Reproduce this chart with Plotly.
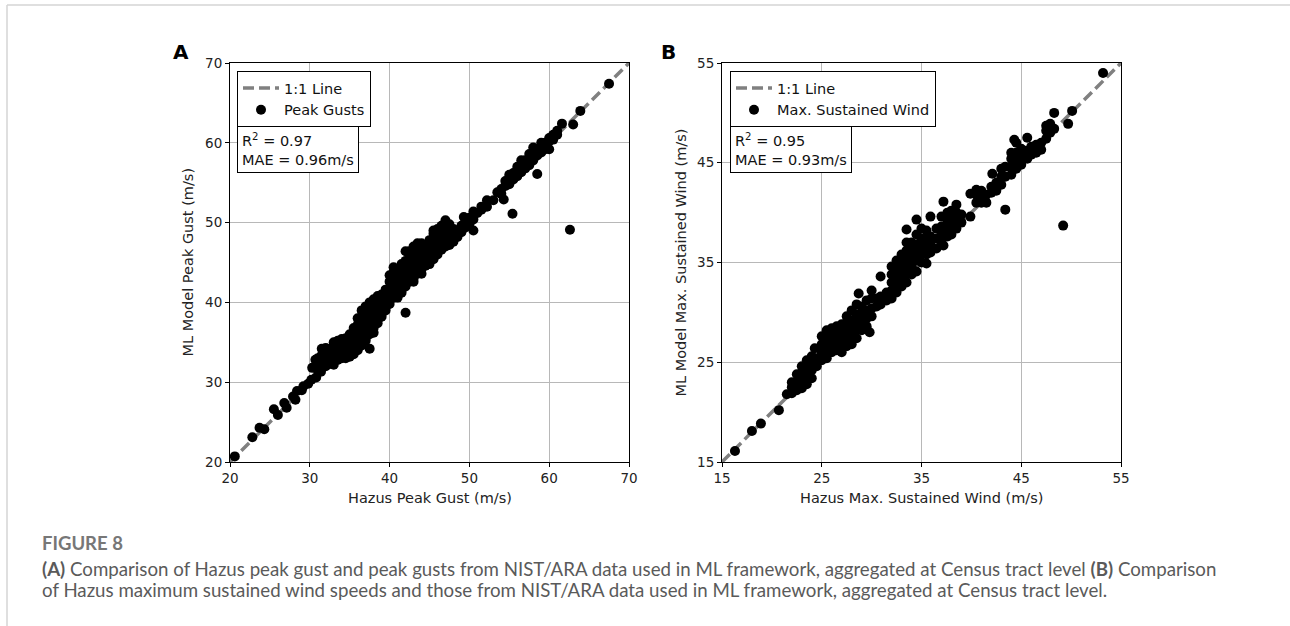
import plotly.graph_objects as go

W, H = 1290, 626

# ---------------- data ----------------
# Panel A: Hazus peak gust (x) vs ML model peak gust (y); columns of points
a_columns = [
    (20.6, [20.7]), (22.8, [23.1]), (23.7, [24.3]), (24.3, [24.1]),
    (25.5, [26.6]), (26.0, [25.9]), (26.8, [27.4]), (27.1, [26.8]),
    (27.9, [28.2]), (28.2, [27.8]), (28.4, [28.9]), (29.0, [29.0]),
    (29.2, [29.5]), (29.8, [29.8]), (30.2, [30.3]), (30.3, [31.8]),
    (30.7, [32.8]), (30.8, [30.6]), (31.4, [31.3]),
    (31.0, [31.5, 32.3, 33.0]),
    (31.5, [31.8, 32.6, 33.4, 34.2]),
    (32.0, [32.0, 32.8, 33.5, 34.3]),
    (32.5, [32.3, 33.0, 33.8, 34.0]),
    (33.0, [32.2, 33.0, 33.8, 34.6, 35.0]),
    (33.5, [32.8, 33.6, 34.4, 35.2]),
    (34.0, [33.0, 33.8, 34.6, 35.4]),
    (34.5, [33.0, 33.8, 34.6, 35.5]),
    (35.0, [33.2, 34.0, 34.8, 35.6, 36.0]),
    (35.5, [33.5, 34.3, 35.1, 35.9, 36.8]),
    (36.0, [34.0, 34.8, 35.6, 36.4, 37.2, 38.0]),
    (36.5, [34.6, 35.0, 35.8, 36.6, 37.4, 38.2, 39.0]),
    (37.0, [35.2, 35.5, 36.3, 37.1, 37.9, 38.7, 39.5]),
    (37.5, [34.2, 36.0, 36.8, 37.6, 38.4, 39.2, 40.0]),
    (38.0, [36.2, 36.8, 37.6, 38.4, 39.2, 40.0, 40.4]),
    (38.5, [37.4, 37.8, 38.6, 39.4, 40.2, 40.8]),
    (39.0, [38.2, 38.6, 39.4, 40.2, 41.0]),
    (39.5, [39.0, 39.4, 40.2, 41.0, 41.6]),
    (40.0, [39.8, 40.2, 41.0, 41.8, 42.6, 43.4]),
    (40.5, [40.6, 41.4, 42.2, 43.0, 43.8, 44.4]),
    (41.0, [40.6, 41.0, 41.8, 42.6, 43.4, 44.2]),
    (41.5, [41.2, 41.6, 42.4, 43.2, 44.0, 44.8]),
    (42.0, [38.7, 42.0, 42.8, 43.6, 44.4, 45.2, 46.4]),
    (42.5, [42.6, 43.4, 44.2, 45.0, 45.8, 46.4]),
    (43.0, [42.6, 43.0, 43.8, 44.6, 45.4, 46.2, 47.0]),
    (43.5, [43.6, 44.4, 45.2, 46.0, 46.8, 47.4]),
    (44.0, [43.6, 44.2, 45.0, 45.8, 46.6, 47.4]),
    (44.5, [44.6, 45.4, 46.2, 47.0]),
    (45.0, [44.8, 45.4, 46.2, 47.0, 47.8]),
    (45.5, [45.4, 46.2, 47.0, 47.8, 48.6, 49.0]),
    (46.0, [46.0, 46.8, 47.6, 48.4, 49.2]),
    (46.5, [46.6, 47.4, 48.2, 49.0, 49.6]),
    (47.0, [47.0, 47.8, 48.6, 49.4, 50.3]),
    (47.5, [47.2, 47.6, 48.4, 49.2, 49.8]),
    (48.0, [47.6, 48.4, 49.2]),
    (48.5, [48.2, 49.0]),
    (49.0, [48.8, 49.6]),
    (49.3, [50.7]),
    (49.5, [49.4, 50.4]),
    (50.0, [49.8, 50.6]),
    (50.5, [49.0, 50.4, 51.4]),
    (51.0, [51.2]),
    (51.5, [51.6, 52.0]),
    (52.2, [52.0, 52.8]),
    (53.0, [52.8]),
    (53.5, [53.8]),
    (54.0, [53.6, 54.2]),
    (54.3, [52.9]),
    (54.5, [54.6, 55.2]),
    (55.0, [54.8, 55.6, 56.0]),
    (55.4, [51.1]),
    (55.5, [55.4, 56.2]),
    (56.0, [55.8, 56.6, 57.0]),
    (56.5, [56.3, 57.1, 57.8]),
    (57.0, [56.8, 57.6, 57.8]),
    (57.5, [57.2, 58.0, 58.6]),
    (58.0, [57.8, 58.6, 59.4]),
    (58.5, [56.1, 58.4, 59.2]),
    (59.0, [58.8, 59.6, 60.0]),
    (59.5, [59.2, 60.0]),
    (60.0, [59.2, 60.2, 60.6]),
    (60.5, [60.4, 61.0]),
    (61.0, [61.0, 61.5]),
    (61.6, [62.4]),
    (62.6, [49.1]),
    (63.0, [62.3]),
    (63.9, [64.0]),
    (67.5, [67.4]),
]

# Panel B: Hazus max sustained wind (x) vs ML model max sustained wind (y)
b_columns = [
    (16.3, [16.1]), (18.0, [18.1]), (18.9, [18.85]), (20.7, [20.2]),
    (21.5, [21.8]), (22.0, [21.9, 22.5, 23.0]),
    (22.5, [22.2, 23.0, 23.8]),
    (23.0, [22.4, 23.2, 24.0, 24.6]),
    (23.5, [22.8, 23.6, 24.4, 25.2]),
    (24.0, [23.4, 24.2, 25.0, 25.6]),
    (24.3, [26.4]),
    (24.5, [24.6, 25.4]),
    (25.0, [25.2, 26.0, 26.8, 27.6]),
    (25.5, [25.4, 26.2, 27.0, 27.6, 28.2]),
    (26.0, [26.0, 26.8, 27.6, 28.4]),
    (26.5, [26.2, 27.0, 27.8, 28.6]),
    (27.0, [26.0, 26.8, 27.6, 28.4, 28.8]),
    (27.5, [26.6, 27.4, 28.2, 29.0, 29.6]),
    (28.0, [26.8, 27.6, 28.4, 29.2, 30.2]),
    (28.5, [27.4, 28.2, 29.0, 29.8, 30.8]),
    (28.7, [31.9]),
    (29.0, [28.2, 29.0, 29.8, 30.6]),
    (29.5, [28.6, 29.4, 30.2, 31.2]),
    (29.8, [28.0]),
    (30.0, [29.6, 30.4, 31.4, 32.2]),
    (30.5, [30.6, 31.4]),
    (30.9, [30.8, 31.6, 33.6]),
    (31.5, [31.2, 32.0]),
    (32.0, [31.4, 32.2, 33.0, 33.8, 34.6]),
    (32.5, [32.0, 32.8, 33.6, 34.4, 35.2]),
    (33.0, [32.6, 33.4, 34.2, 35.0, 35.8]),
    (33.5, [33.0, 33.8, 34.6, 35.4, 36.2, 37.0, 38.3]),
    (34.0, [33.8, 34.6, 35.4, 36.2, 37.0]),
    (34.5, [34.1, 35.2, 36.0, 36.8, 37.8, 39.3]),
    (35.0, [35.0, 35.8, 36.6, 37.4, 38.4]),
    (35.5, [34.9, 35.8, 36.6, 37.4, 38.2]),
    (35.9, [36.0, 36.8, 37.6, 39.6]),
    (36.5, [36.4, 37.4, 38.4]),
    (37.0, [37.0, 37.8, 38.6, 39.6]),
    (37.2, [36.7, 41.1]),
    (37.6, [37.6, 38.4, 39.2, 40.0]),
    (38.0, [37.8, 38.6, 39.4, 40.2]),
    (38.5, [38.4, 39.2, 40.0, 40.8]),
    (39.0, [39.0, 39.8]),
    (39.9, [39.6, 41.9]),
    (40.5, [41.0, 41.8, 42.3]),
    (41.0, [41.0, 41.8, 42.2]),
    (41.5, [41.0, 41.8]),
    (42.0, [42.0, 42.6]),
    (42.1, [43.9]),
    (42.5, [42.2, 43.0]),
    (43.0, [42.8, 43.6, 44.4]),
    (43.4, [40.3, 43.6, 44.6]),
    (44.0, [43.8, 44.6, 45.4, 46.0]),
    (44.3, [47.3]),
    (44.5, [44.4, 45.2, 46.0, 47.0]),
    (45.0, [44.8, 45.6, 46.4]),
    (45.6, [45.4, 46.2, 47.5]),
    (46.0, [45.8, 46.6]),
    (46.5, [46.0, 46.6, 46.8]),
    (47.0, [46.3, 47.0]),
    (47.5, [47.4, 48.2, 48.7]),
    (47.9, [48.0, 48.9]),
    (48.3, [48.4, 50.0]),
    (49.2, [38.7]),
    (49.7, [48.9]),
    (50.1, [50.2]),
    (53.2, [54.0]),
]

a_hazus = [x for x, ys in a_columns for _ in ys]
a_model = [y for _, ys in a_columns for y in ys]
b_hazus = [x for x, ys in b_columns for _ in ys]
b_model = [y for _, ys in b_columns for y in ys]

a_range = [20, 70]
b_range = [15, 55]
a_ticks = [20, 30, 40, 50, 60, 70]
b_ticks = [15, 25, 35, 45, 55]

a_stats = "R<sup>2</sup> = 0.97<br>MAE = 0.96m/s"
b_stats = "R<sup>2</sup> = 0.95<br>MAE = 0.93m/s"

caption_title = "FIGURE 8"
caption_line1 = ("<b>(A)</b> Comparison of Hazus peak gust and peak gusts from NIST/ARA data used in ML "
                 "framework, aggregated at Census tract level <b>(B)</b> Comparison")
caption_line2 = ("of Hazus maximum sustained wind speeds and those from NIST/ARA data used in ML "
                 "framework, aggregated at Census tract level.")

# ---------------- layout helpers ----------------
def px_x(p):
    return p / W

def px_y(p):
    return 1 - p / H

FONT = "DejaVu Sans"
fig = go.Figure()

# 1:1 lines (drawn under the markers)
fig.add_trace(go.Scatter(x=a_range, y=a_range, mode="lines", name="1:1 Line",
                         line=dict(color="#808080", width=3.5, dash="11px,5px"),
                         xaxis="x", yaxis="y", legend="legend", legendrank=1))
fig.add_trace(go.Scatter(x=a_hazus, y=a_model, mode="markers", name="Peak Gusts",
                         marker=dict(color="black", size=10), xaxis="x", yaxis="y",
                         legend="legend", legendrank=2))
fig.add_trace(go.Scatter(x=b_range, y=b_range, mode="lines", name="1:1 Line",
                         line=dict(color="#808080", width=3.5, dash="11px,5px"),
                         xaxis="x2", yaxis="y2", legend="legend2", legendrank=1))
fig.add_trace(go.Scatter(x=b_hazus, y=b_model, mode="markers", name="Max. Sustained Wind",
                         marker=dict(color="black", size=10), xaxis="x2", yaxis="y2",
                         legend="legend2", legendrank=2))

ydom = [px_y(462), px_y(63)]
axis_common = dict(showgrid=True, gridcolor="#b8b8b8", gridwidth=1, showline=True,
                   linecolor="black", linewidth=1, mirror=True, ticks="outside",
                   ticklen=4, tickcolor="black", zeroline=False,
                   tickfont=dict(family=FONT, size=13.5, color="#222"), automargin=False)

legend_common = dict(xanchor="left", yanchor="top", bordercolor="black", borderwidth=1,
                     bgcolor="white", font=dict(family=FONT, size=14.5, color="#111"),
                     tracegroupgap=0, itemwidth=36)

fig.update_layout(
    width=W, height=H, margin=dict(l=0, r=0, t=0, b=0),
    paper_bgcolor="white", plot_bgcolor="white",
    font=dict(family=FONT, color="#222"),
    xaxis=dict(domain=[px_x(230), px_x(629)], range=a_range, tickvals=a_ticks, anchor="y", **axis_common),
    yaxis=dict(domain=ydom, range=a_range, tickvals=a_ticks, anchor="x", **axis_common),
    xaxis2=dict(domain=[px_x(722), px_x(1121)], range=b_range, tickvals=b_ticks, anchor="y2", **axis_common),
    yaxis2=dict(domain=ydom, range=b_range, tickvals=b_ticks, anchor="x2", **axis_common),
    legend=dict(x=px_x(237), y=px_y(71), **legend_common),
    legend2=dict(x=px_x(730), y=px_y(71), **legend_common),
    showlegend=True,
)

ann = []
# stats boxes
for xpix, txt in [(237, a_stats), (730, b_stats)]:
    ann.append(dict(x=px_x(xpix), y=px_y(126), xref="paper", yref="paper", xanchor="left",
                    yanchor="top", text=txt, showarrow=False, align="left",
                    bordercolor="black", borderwidth=1, borderpad=4, bgcolor="white",
                    font=dict(family=FONT, size=14.5, color="#111")))
# panel letters
for xpix, txt in [(181, "A"), (668, "B")]:
    ann.append(dict(x=px_x(xpix), y=px_y(52), xref="paper", yref="paper", xanchor="center",
                    yanchor="middle", text=f"<b>{txt}</b>", showarrow=False,
                    font=dict(family=FONT, size=20, color="black")))
# axis titles
for xpix, txt in [(429.5, "Hazus Peak Gust (m/s)"), (921.5, "Hazus Max. Sustained Wind (m/s)")]:
    ann.append(dict(x=px_x(xpix), y=px_y(498), xref="paper", yref="paper", xanchor="center",
                    yanchor="middle", text=txt, showarrow=False,
                    font=dict(family=FONT, size=14.5, color="#222")))
for xpix, txt in [(187, "ML Model Peak Gust (m/s)"), (680, "ML Model Max. Sustained Wind (m/s)")]:
    ann.append(dict(x=px_x(xpix), y=px_y(262.5), xref="paper", yref="paper", xanchor="center",
                    yanchor="middle", text=txt, showarrow=False, textangle=-90,
                    font=dict(family=FONT, size=14.5, color="#222")))
# caption
ann.append(dict(x=px_x(40), y=px_y(542.5), xref="paper", yref="paper", xanchor="left",
                yanchor="middle", text=f"<b>{caption_title}</b>", showarrow=False,
                font=dict(family="Lato", size=18.5, color="#777")))
ann.append(dict(x=px_x(40), y=px_y(569), xref="paper", yref="paper", xanchor="left",
                yanchor="middle", text=caption_line1, showarrow=False,
                font=dict(family="Lato", size=18.7, color="#5a5a5a")))
ann.append(dict(x=px_x(40), y=px_y(590), xref="paper", yref="paper", xanchor="left",
                yanchor="middle", text=caption_line2, showarrow=False,
                font=dict(family="Lato", size=18.7, color="#5a5a5a")))
fig.update_layout(annotations=ann)

# page frame lines (top and left)
fig.update_layout(shapes=[
    dict(type="line", xref="paper", yref="paper", x0=px_x(7), x1=1, y0=px_y(5), y1=px_y(5),
         line=dict(color="#d5d5d5", width=1.5)),
    dict(type="line", xref="paper", yref="paper", x0=px_x(7), x1=px_x(7), y0=0, y1=px_y(5),
         line=dict(color="#d5d5d5", width=1.5)),
])

fig.write_html("out.html")
